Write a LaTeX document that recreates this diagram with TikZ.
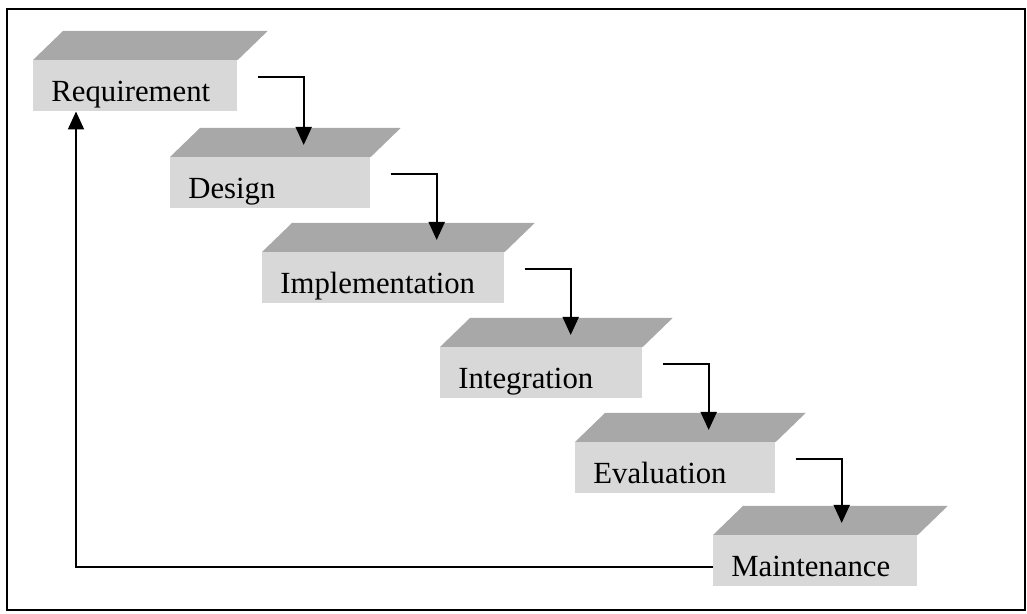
\documentclass[tikz,border=0pt]{standalone}
\usepackage{fontspec}
\setmainfont{Liberation Serif}
\usepackage{tikz}
\usetikzlibrary{arrows.meta, calc}
\definecolor{stagefront}{RGB}{216,216,216}
\definecolor{stageshade}{RGB}{168,168,168}
\tikzset{
    stagebox/.style={rectangle, fill=stagefront, anchor=north west, text width=#1, align=left, inner xsep=3.6mm, inner ysep=2pt, text height=21.2pt, text depth=3.7pt, font=\fontsize{17.5}{20}\selectfont},
    stagebox/.default=3.28cm,
    stagetop/.style={fill=stageshade},
    flowarrow/.style={-{Triangle[length=3.6mm,width=3.2mm]}, line width=1.1pt},
    frameline/.style={draw=black, line width=1pt}
}

\begin{document}
\begin{tikzpicture}

\useasboundingbox (0,0) rectangle (20.54,12.28);
\draw[frameline] (0.14,0.08) rectangle (20.5,12.1);

% stages of the waterfall
\node[stagebox=3.36cm] (req) at (0.66,11.08) {Requirement};
\node[stagebox] (des) at (3.40,9.14) {Design};
\node[stagebox=4.12cm] (imp) at (5.24,7.24) {Implementation};
\node[stagebox=3.32cm] (intg) at (8.80,5.34) {Integration};
\node[stagebox] (eva) at (11.50,3.44) {Evaluation};
\node[stagebox=3.36cm] (mnt) at (14.26,1.58) {Maintenance};

% shaded tops
\foreach \s in {req,des,imp,intg,eva,mnt}
    \fill[stagetop] (\s.north west) -- ++(0.6,0.58) -- ($(\s.north east)+(0.6,0.58)$) -- (\s.north east) -- cycle;

\draw[flowarrow] ([xshift=4mm,yshift=-3.4mm]req.north east) -| ([xshift=13.2mm,yshift=2.4mm]req.east |- des.north);
\draw[flowarrow] ([xshift=4mm,yshift=-3.4mm]des.north east) -| ([xshift=13.2mm,yshift=2.4mm]des.east |- imp.north);
\draw[flowarrow] ([xshift=4mm,yshift=-3.4mm]imp.north east) -| ([xshift=13.2mm,yshift=2.4mm]imp.east |- intg.north);
\draw[flowarrow] ([xshift=4mm,yshift=-3.4mm]intg.north east) -| ([xshift=13.2mm,yshift=2.4mm]intg.east |- eva.north);
\draw[flowarrow] ([xshift=4mm,yshift=-3.4mm]eva.north east) -| ([xshift=13.2mm,yshift=2.4mm]eva.east |- mnt.north);
\draw[flowarrow] ([yshift=-1.3mm]mnt.west) -| ([xshift=8.6mm]req.south west);

\end{tikzpicture}
\end{document}
